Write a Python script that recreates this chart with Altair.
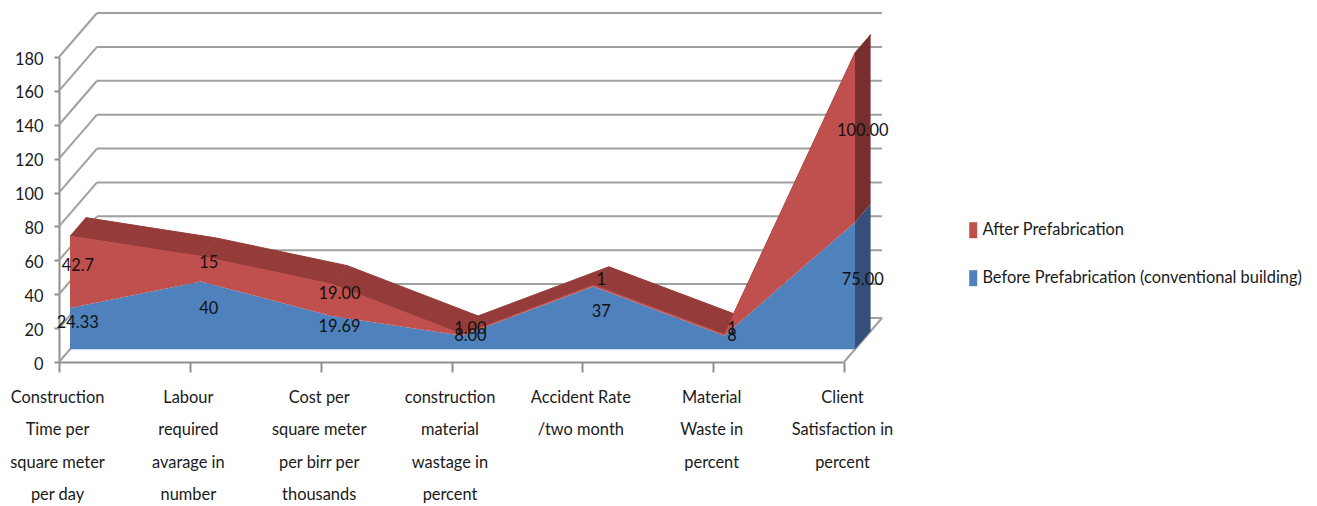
import json
import altair as alt
import pandas as pd

CATEGORY_LINES = [
    ["Construction", "Time per", "square meter", "per day"],
    ["Labour", "required", "avarage in", "number"],
    ["Cost per", "square meter", "per birr per", "thousands"],
    ["construction", "material", "wastage in", "percent"],
    ["Accident Rate", "/two month"],
    ["Material", "Waste in", "percent"],
    ["Client", "Satisfaction in", "percent"],
]
BEFORE_LABELS = ["24.33", "40", "19.69", "8.00", "37", "8", "75.00"]
AFTER_LABELS = ["42.7", "15", "19.00", "1.00", "1", "1", "100.00"]
GRID_VALUES = [0, 20, 40, 60, 80, 100, 120, 140, 160, 180]
SERIES = ["After Prefabrication", "Before Prefabrication (conventional building)"]
FACE_COLORS = ["#C0504D", "#4F81BD"]

FONT = "Lato"
FONT_SIZE = 16.4
TEXT = "#1a1a1a"
GRID = "#a0a0a0"
AXIS = "#8f8f8f"
TOP_SURFACE = "#953B39"

# Oblique projection: one full unit of depth, expressed in data units.
DEPTH_X = 0.2905
DEPTH_Y = 25.97
SLAB_FRONT = 0.29
SLAB_BACK = 0.70


def px(i, d):
    return i + d * DEPTH_X


def py(v, d):
    return v + d * DEPTH_Y


before = [float(s) for s in BEFORE_LABELS]
after = [float(s) for s in AFTER_LABELS]
total = [b + a for b, a in zip(before, after)]
n = len(before)

x_scale = alt.Scale(domain=[0, n - 1], nice=False, zero=False)
y_scale = alt.Scale(domain=[0, 180], nice=False)

x_axis = alt.Axis(
    title=None,
    values=list(range(n)),
    grid=False,
    domainColor=AXIS,
    domainWidth=2,
    tickColor=AXIS,
    tickWidth=2,
    tickSize=10,
    labelFont=FONT,
    labelFontSize=FONT_SIZE,
    labelColor=TEXT,
    labelPadding=17,
    labelLineHeight=32.5,
    labelOffset=-2,
    labelOverlap=False,
    labelFlush=False,
    labelBound=False,
    labelAngle=0,
    labelBaseline="top",
    labelExpr=json.dumps(CATEGORY_LINES) + "[datum.value]",
)
y_axis = alt.Axis(
    title=None,
    values=GRID_VALUES,
    grid=False,
    domainColor=AXIS,
    domainWidth=2,
    tickColor=AXIS,
    tickWidth=2,
    tickSize=5,
    labelFont=FONT,
    labelFontSize=FONT_SIZE,
    labelColor=TEXT,
    labelPadding=11,
    labelOffset=2,
    labelOverlap=False,
    labelFlush=False,
    labelBound=False,
)
X = alt.X("x:Q", scale=x_scale, axis=x_axis)
Y = alt.Y("y:Q", scale=y_scale, axis=y_axis, stack=None)

# Wall and floor lines
walls = pd.DataFrame(
    [{"x": px(0, 1), "x2": px(n - 1, 1), "y": py(v, 1), "y2": py(v, 1)} for v in GRID_VALUES]
    + [{"x": 0, "x2": px(0, 1), "y": v, "y2": py(v, 1)} for v in GRID_VALUES]
    + [{"x": n - 1, "x2": px(n - 1, 1), "y": 0, "y2": py(0, 1)}]
)
wall_layer = alt.Chart(walls).mark_rule(color=GRID, strokeWidth=2).encode(
    x=X, x2="x2:Q", y=Y, y2="y2:Q"
)

# Upper surface of the stacked slab, one parallelogram per segment
surface_rows = []
for i in range(n - 1):
    corners = [
        (px(i, SLAB_FRONT), py(total[i], SLAB_FRONT)),
        (px(i + 1, SLAB_FRONT), py(total[i + 1], SLAB_FRONT)),
        (px(i + 1, SLAB_BACK), py(total[i + 1], SLAB_BACK)),
        (px(i, SLAB_BACK), py(total[i], SLAB_BACK)),
    ]
    for k, (cx, cy) in enumerate(corners):
        surface_rows.append({"seg": i, "k": k, "x": cx, "y": cy})
surface_layer = alt.Chart(pd.DataFrame(surface_rows)).mark_line(
    filled=True, fill=TOP_SURFACE, stroke=TOP_SURFACE, strokeWidth=1
).encode(x=X, y=Y, detail="seg:N", order="k:Q")


def end_face(low, high, name):
    corners = [
        (px(n - 1, SLAB_FRONT), py(low, SLAB_FRONT)),
        (px(n - 1, SLAB_FRONT), py(high, SLAB_FRONT)),
        (px(n - 1, SLAB_BACK), py(high, SLAB_BACK)),
        (px(n - 1, SLAB_BACK), py(low, SLAB_BACK)),
    ]
    return [{"face": name, "k": k, "x": cx, "y": cy} for k, (cx, cy) in enumerate(corners)]


# Right-hand end of the slab, in darker shades of each series
end_rows = end_face(0, before[-1], "before") + end_face(before[-1], total[-1], "after")
end_layer = alt.Chart(pd.DataFrame(end_rows)).mark_line(filled=True, strokeWidth=0).encode(
    x=X,
    y=Y,
    detail="face:N",
    order="k:Q",
    color=alt.Color("face:N", scale=alt.Scale(domain=["before", "after"], range=["#34507A", "#772F2D"]), legend=None),
)

# Front faces
front_rows = []
for i in range(n):
    fx = px(i, SLAB_FRONT)
    front_rows.append({"series": SERIES[1], "x": fx, "y": py(before[i], SLAB_FRONT), "y0": py(0, SLAB_FRONT)})
    front_rows.append({"series": SERIES[0], "x": fx, "y": py(total[i], SLAB_FRONT), "y0": py(before[i], SLAB_FRONT)})
front_layer = alt.Chart(pd.DataFrame(front_rows)).mark_area(opacity=1).encode(
    x=X,
    y=Y,
    y2="y0:Q",
    color=alt.Color(
        "series:N",
        scale=alt.Scale(domain=SERIES, range=FACE_COLORS),
        sort=SERIES,
        legend=alt.Legend(
            title=None,
            orient="none",
            legendX=906,
            legendY=165,
            symbolType="M-1,-2H1V2H-1Z",
            symbolSize=64,
            symbolStrokeWidth=0,
            labelFont=FONT,
            labelFontSize=FONT_SIZE,
            labelColor=TEXT,
            labelLimit=400,
            rowPadding=31,
            labelOffset=1,
        ),
    ),
)

# Value labels sit halfway through the slab, centred on each band
mid_depth = (SLAB_FRONT + SLAB_BACK) / 2
label_rows = []
for i in range(n):
    label_rows.append({"x": px(i, mid_depth), "y": py(before[i] / 2, mid_depth), "text": BEFORE_LABELS[i]})
    label_rows.append({"x": px(i, mid_depth), "y": py(before[i] + after[i] / 2, mid_depth), "text": AFTER_LABELS[i]})
label_layer = alt.Chart(pd.DataFrame(label_rows)).mark_text(
    font=FONT, fontSize=FONT_SIZE, color="#111111", align="center", baseline="middle", dy=3
).encode(x=X, y=Y, text="text:N")

chart = (
    alt.layer(wall_layer, surface_layer, end_layer, front_layer, label_layer)
    .resolve_scale(color="independent")
    .properties(
        width=785,
        height=305,
        autosize=alt.AutoSizeParams(type="none"),
        padding={"left": 59, "top": 57, "right": 473, "bottom": 144},
        background="white",
    )
    .configure_view(stroke=None)
)

chart.save("out.html", embed_options={"renderer": "svg", "actions": False})
